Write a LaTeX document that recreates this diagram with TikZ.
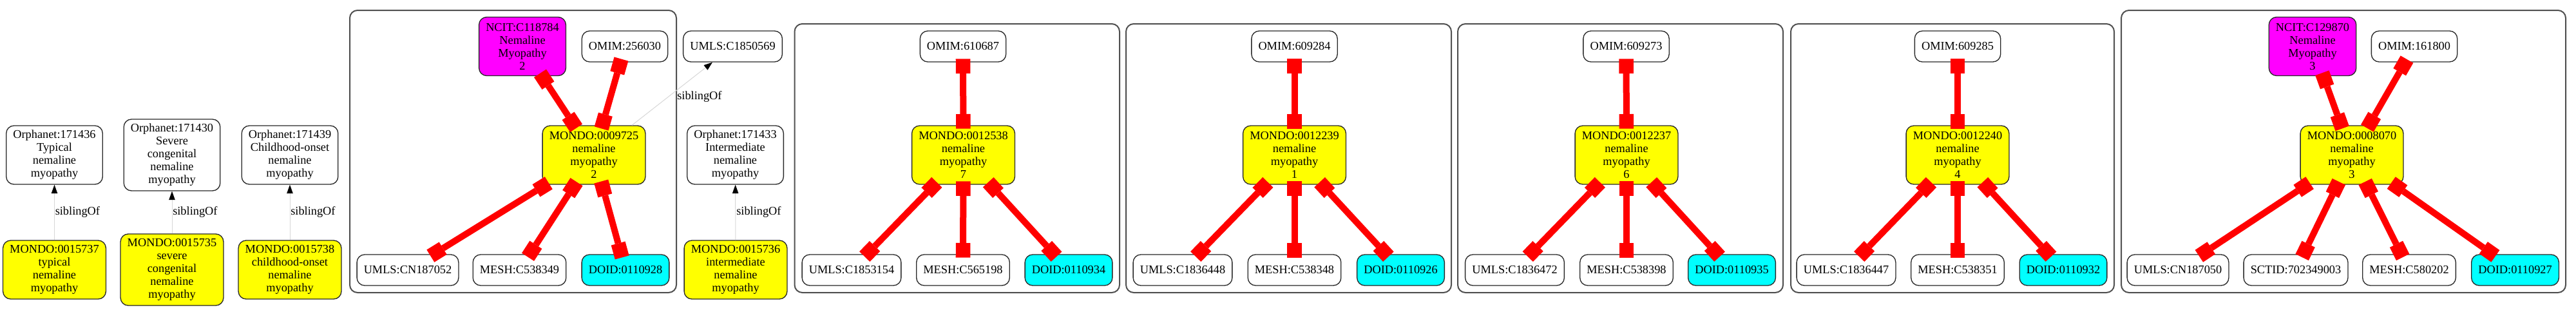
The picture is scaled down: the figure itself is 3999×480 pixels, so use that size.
\documentclass[tikz,border=0pt]{standalone}
\usepackage{fontspec}
\setmainfont{Liberation Serif}
\usetikzlibrary{arrows.meta}
\definecolor{gvmag}{RGB}{255,0,255}
\definecolor{gvcyan}{RGB}{0,255,255}
\definecolor{gvyellow}{RGB}{255,255,0}
\definecolor{gvred}{RGB}{255,0,0}
\definecolor{gvline}{RGB}{40,40,40}
\definecolor{gvclus}{RGB}{80,80,80}
\definecolor{gvsib}{RGB}{215,215,215}
\newcommand{\gvfont}{\fontsize{13.75}{15}\selectfont}
\begin{document}
\begin{tikzpicture}[x=0.75pt,y=-0.75pt,
  nd/.style={draw=gvline, line width=1pt, rounded corners=9pt, align=center, font=\gvfont, inner xsep=8pt, inner ysep=2pt, minimum height=36pt},
  hfour/.style={minimum height=68.25pt},
  hfive/.style={minimum height=83.25pt},
  mondo/.style={nd, fill=gvyellow},
  ncit/.style={nd, fill=gvmag},
  doid/.style={nd, fill=gvcyan},
  clus/.style={draw=gvclus, line width=1.5pt, rounded corners=9pt},
  xref/.style={draw=gvred, line width=7.5pt, {Square[length=17pt,width=17pt,line width=0pt]}-{Square[length=17pt,width=17pt,line width=0pt]}, shorten <=-4pt, shorten >=-4pt},
  sib/.style={draw=gvsib, line width=0.75pt, -{Triangle[length=10pt,width=7pt,color=black]}},
  lbl/.style={font=\gvfont, anchor=west, inner sep=0pt}
]
\useasboundingbox (0,0) rectangle (3999,480);

% clusters
\draw[clus] (543,16) rectangle (1050,454);
\draw[clus] (1233.5,37) rectangle (1738,454);
\draw[clus] (1748,37) rectangle (2253,454);
\draw[clus] (2263,37) rectangle (2768,454);
\draw[clus] (2780,37) rectangle (3282,454);
\draw[clus] (3293,16) rectangle (3983,454);

% left isolated pairs
\node[nd,hfour] (orphA) at (84.5,240.5) {Orphanet:171436\\Typical\\nemaline\\myopathy};
\node[mondo,hfour] (mA) at (84.5,418.5) {MONDO:0015737\\typical\\nemaline\\myopathy};
\node[nd,hfive] (orphB) at (267,240.5) {Orphanet:171430\\Severe\\congenital\\nemaline\\myopathy};
\node[mondo,hfive] (mB) at (267,418.5) {MONDO:0015735\\severe\\congenital\\nemaline\\myopathy};
\node[nd,hfour] (orphC) at (450,240.5) {Orphanet:171439\\Childhood-onset\\nemaline\\myopathy};
\node[mondo,hfour] (mC) at (450,418.5) {MONDO:0015738\\childhood-onset\\nemaline\\myopathy};

\draw[sib] (mA) -- (orphA);
\draw[sib] (mB) -- (orphB);
\draw[sib] (mC) -- (orphC);
\node[lbl] (lA) at (85.5,329) {siblingOf};
\node[lbl] (lB) at (268,329) {siblingOf};
\node[lbl] (lC) at (451,329) {siblingOf};

% cluster 1
\node[ncit,hfour] (ncitA) at (811,72) {NCIT:C118784\\Nemaline\\Myopathy\\2};
\node[nd] (omimA) at (970,72) {OMIM:256030};
\node[mondo,hfour] (mD) at (922,240.5) {MONDO:0009725\\nemaline\\myopathy\\2};
\node[nd] (umlsA) at (633,419) {UMLS:CN187052};
\node[nd] (meshA) at (806.5,419) {MESH:C538349};
\node[doid] (doidA) at (971,419) {DOID:0110928};
\draw[xref] (ncitA) -- (mD);
\draw[xref] (omimA) -- (mD);
\draw[xref] (mD) -- (umlsA);
\draw[xref] (mD) -- (meshA);
\draw[xref] (mD) -- (doidA);

% outside cluster 1
\node[nd] (umlsS) at (1137.5,72) {UMLS:C1850569};
\node[nd,hfour] (orphD) at (1141.5,240.5) {Orphanet:171433\\Intermediate\\nemaline\\myopathy};
\node[mondo,hfour] (mE) at (1142,418.5) {MONDO:0015736\\intermediate\\nemaline\\myopathy};
\draw[sib] (mD) -- (umlsS);
\node[lbl] (lD) at (1051,150) {siblingOf};
\draw[sib] (mE) -- (orphD);
\node[lbl] (lE) at (1143,329) {siblingOf};

% cluster 2
\node[nd] (omimB) at (1495,72) {OMIM:610687};
\node[mondo,hfour] (mF) at (1495.5,240.5) {MONDO:0012538\\nemaline\\myopathy\\7};
\node[nd] (umlsB) at (1322,419) {UMLS:C1853154};
\node[nd] (meshB) at (1495,419) {MESH:C565198};
\node[doid] (doidB) at (1659,419) {DOID:0110934};
\draw[xref] (omimB) -- (mF);
\draw[xref] (mF) -- (umlsB);
\draw[xref] (mF) -- (meshB);
\draw[xref] (mF) -- (doidB);

% cluster 3
\node[nd] (omimC) at (2009.5,72) {OMIM:609284};
\node[mondo,hfour] (mG) at (2009.5,240.5) {MONDO:0012239\\nemaline\\myopathy\\1};
\node[nd] (umlsC) at (1836,419) {UMLS:C1836448};
\node[nd] (meshC) at (2009.5,419) {MESH:C538348};
\node[doid] (doidC) at (2174.5,419) {DOID:0110926};
\draw[xref] (omimC) -- (mG);
\draw[xref] (mG) -- (umlsC);
\draw[xref] (mG) -- (meshC);
\draw[xref] (mG) -- (doidC);

% cluster 4
\node[nd] (omimD) at (2524.5,72) {OMIM:609273};
\node[mondo,hfour] (mH) at (2525,240.5) {MONDO:0012237\\nemaline\\myopathy\\6};
\node[nd] (umlsD) at (2351.5,419) {UMLS:C1836472};
\node[nd] (meshD) at (2525,419) {MESH:C538398};
\node[doid] (doidD) at (2688.5,419) {DOID:0110935};
\draw[xref] (omimD) -- (mH);
\draw[xref] (mH) -- (umlsD);
\draw[xref] (mH) -- (meshD);
\draw[xref] (mH) -- (doidD);

% cluster 5
\node[nd] (omimE) at (3039,72) {OMIM:609285};
\node[mondo,hfour] (mI) at (3039,240.5) {MONDO:0012240\\nemaline\\myopathy\\4};
\node[nd] (umlsE) at (2866,419) {UMLS:C1836447};
\node[nd] (meshE) at (3039,419) {MESH:C538351};
\node[doid] (doidE) at (3203,419) {DOID:0110932};
\draw[xref] (omimE) -- (mI);
\draw[xref] (mI) -- (umlsE);
\draw[xref] (mI) -- (meshE);
\draw[xref] (mI) -- (doidE);

% cluster 6
\node[ncit,hfour] (ncitB) at (3590,72) {NCIT:C129870\\Nemaline\\Myopathy\\3};
\node[nd] (omimF) at (3748,72) {OMIM:161800};
\node[mondo,hfour] (mJ) at (3651,240.5) {MONDO:0008070\\nemaline\\myopathy\\3};
\node[nd] (umlsF) at (3381,419) {UMLS:CN187050};
\node[nd] (sctF) at (3564,419) {SCTID:702349003};
\node[nd] (meshF) at (3740,419) {MESH:C580202};
\node[doid] (doidF) at (3904.5,419) {DOID:0110927};
\draw[xref] (ncitB) -- (mJ);
\draw[xref] (omimF) -- (mJ);
\draw[xref] (mJ) -- (umlsF);
\draw[xref] (mJ) -- (sctF);
\draw[xref] (mJ) -- (meshF);
\draw[xref] (mJ) -- (doidF);
\end{tikzpicture}
\end{document}
